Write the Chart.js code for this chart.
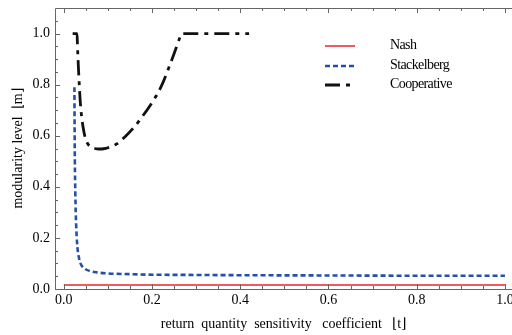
<!DOCTYPE html>
<html>
<head>
<meta charset="utf-8">
<script src="https://cdn.jsdelivr.net/npm/chart.js@4/dist/chart.umd.min.js"></script>
<style>
html,body{margin:0;padding:0;background:#fff;}
#wrap{width:512px;height:335px;position:relative;}
</style>
</head>
<body>
<div id="wrap"><canvas id="c" width="512" height="335"></canvas></div>
<script>
// ---- data ----
const nashX = [0.0, 1.0];
const nashY = [0.016, 0.016];

const stackX = [0.024,0.0245,0.025,0.026,0.027,0.029,0.031,0.034,0.037,0.041,0.048,0.058,0.075,0.1,0.15,0.2,0.3,0.4,0.6,0.8,1.0];
const stackY = [0.79,0.62,0.5,0.38,0.3,0.21,0.16,0.125,0.104,0.09,0.079,0.071,0.065,0.061,0.058,0.056,0.055,0.054,0.053,0.052,0.052];

const coopX = [0.02,0.03,0.031,0.033,0.035,0.037,0.04,0.044,0.048,0.052,0.06,0.07,0.08,0.09,0.1,0.12,0.14,0.16,0.18,0.2,0.22,0.24,0.255,0.262,0.267,0.3,0.35,0.42];
const coopY = [1.0,1.0,0.95,0.87,0.8,0.74,0.68,0.63,0.595,0.575,0.557,0.55,0.548,0.549,0.553,0.568,0.598,0.635,0.68,0.73,0.79,0.875,0.945,0.98,1.0,1.0,1.0,1.0];

const seriesNames = ["Nash", "Stackelberg", "Cooperative"];
const xTickValues = [0,0.05,0.1,0.15,0.2,0.25,0.3,0.35,0.4,0.45,0.5,0.55,0.6,0.65,0.7,0.75,0.8,0.85,0.9,0.95,1.0];
const yTickValues = [0,0.05,0.1,0.15,0.2,0.25,0.3,0.35,0.4,0.45,0.5,0.55,0.6,0.65,0.7,0.75,0.8,0.85,0.9,0.95,1.0,1.05];
const xTitle = "return  quantity  sensitivity   coefficient   ⌊t⌋";
const yTitle = "modularity level  ⌊m⌋";

const pts = (xs, ys) => xs.map((x, i) => ({x: x, y: ys[i]}));
const isMajor = v => Math.abs(v*5 - Math.round(v*5)) < 1e-6;
const FONT = "'Liberation Serif', 'Times New Roman', serif";

const framePlugin = {
  id: 'frame',
  afterDraw(chart) {
    const {ctx, chartArea: a, scales: {x, y}} = chart;
    ctx.save();
    ctx.strokeStyle = '#666';
    ctx.lineWidth = 1;
    ctx.beginPath();
    ctx.moveTo(a.right, a.top + 0.5);
    ctx.lineTo(a.left + 0.5, a.top + 0.5);
    ctx.lineTo(a.left + 0.5, a.bottom + 0.5);
    ctx.lineTo(a.right, a.bottom + 0.5);
    ctx.stroke();
    ctx.beginPath();
    xTickValues.forEach(v => {
      const px = Math.round(x.getPixelForValue(v)) + 0.5;
      const len = isMajor(v) ? 5 : 3;
      ctx.moveTo(px, a.bottom); ctx.lineTo(px, a.bottom - len);
      ctx.moveTo(px, a.top); ctx.lineTo(px, a.top + len);
    });
    yTickValues.forEach(v => {
      const py = Math.round(y.getPixelForValue(v)) + 0.5;
      const len = isMajor(v) ? 5 : 3;
      ctx.moveTo(a.left, py); ctx.lineTo(a.left + len, py);
    });
    ctx.stroke();
    ctx.restore();
  }
};

const legendPlugin = {
  id: 'insideLegend',
  afterDraw(chart) {
    const {ctx} = chart;
    const rows = [46, 66, 85];
    ctx.save();
    chart.data.datasets.forEach((ds, i) => {
      const yy = rows[i];
      ctx.strokeStyle = ds.borderColor;
      ctx.lineWidth = ds.borderWidth;
      ctx.setLineDash(ds.borderDash || []);
      ctx.beginPath();
      ctx.moveTo(325, yy); ctx.lineTo(355, yy);
      ctx.stroke();
      ctx.setLineDash([]);
      ctx.fillStyle = '#000';
      ctx.font = "14px " + FONT;
      ctx.textBaseline = 'middle';
      ctx.textAlign = 'left';
      if ('letterSpacing' in ctx) ctx.letterSpacing = '-0.6px';
      ctx.fillText(ds.label, 390, yy - 1);
      if ('letterSpacing' in ctx) ctx.letterSpacing = '0px';
    });
    ctx.restore();
  }
};

new Chart(document.getElementById('c'), {
  type: 'line',
  data: {
    datasets: [
      {label: seriesNames[0], data: pts(nashX, nashY), borderColor: '#e8262e', borderWidth: 1.5, pointRadius: 0, fill: false},
      {label: seriesNames[1], data: pts(stackX, stackY), borderColor: '#2350a8', borderWidth: 2.6, borderDash: [5, 3], pointRadius: 0, fill: false, cubicInterpolationMode: 'monotone'},
      {label: seriesNames[2], data: pts(coopX, coopY), borderColor: '#111', borderWidth: 2.8, borderDash: [15, 6, 4, 6], pointRadius: 0, fill: false, cubicInterpolationMode: 'monotone'}
    ]
  },
  options: {
    responsive: false,
    animation: false,
    layout: {padding: {top: 8, right: 0, left: 0, bottom: 0}},
    plugins: {legend: {display: false}, tooltip: {enabled: false}},
    scales: {
      x: {
        type: 'linear', min: -0.02, max: 1.016,
        afterBuildTicks: s => { s.ticks = xTickValues.map(v => ({value: v})); },
        afterFit: s => { s.height = 46; s.paddingLeft = 0; s.paddingRight = 0; },
        grid: {display: false, drawTicks: false},
        border: {display: false},
        ticks: {
          padding: 3, maxRotation: 0, autoSkip: false, color: '#000',
          font: {family: FONT, size: 14},
          callback: v => isMajor(v) ? v.toFixed(1) : ''
        },
        title: {display: true, text: xTitle, color: '#000', font: {family: FONT, size: 14}, padding: {top: 0, bottom: 2}}
      },
      y: {
        type: 'linear', min: 0, max: 1.1,
        afterBuildTicks: s => { s.ticks = yTickValues.map(v => ({value: v})); },
        afterFit: s => { s.width = 55; s.paddingTop = 0; s.paddingBottom = 0; },
        grid: {display: false, drawTicks: false},
        border: {display: false},
        ticks: {
          padding: 5, autoSkip: false, color: '#000',
          font: {family: FONT, size: 14},
          callback: v => isMajor(v) ? v.toFixed(1) : ''
        },
        title: {display: true, text: yTitle, color: '#000', font: {family: FONT, size: 14}, padding: {top: 10, bottom: 0}}
      }
    }
  },
  plugins: [framePlugin, legendPlugin]
});
</script>
</body>
</html>
